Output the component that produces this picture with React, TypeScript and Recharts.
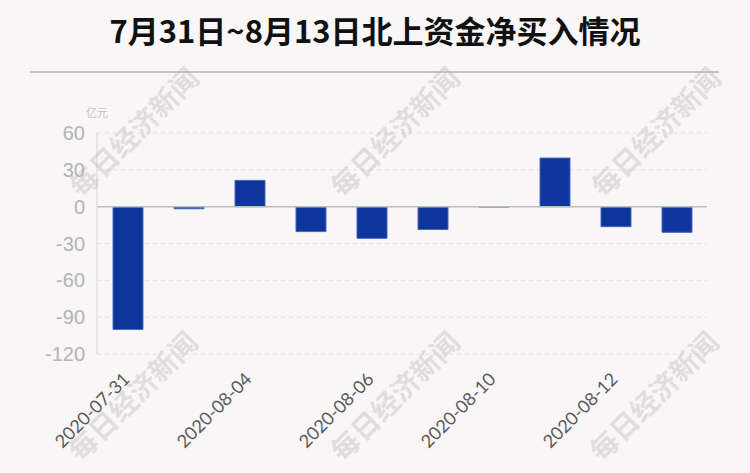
import React from "react";
import { BarChart, Bar, XAxis, YAxis, CartesianGrid, ReferenceLine } from "recharts";

const categories = [
  "2020-07-31", "2020-08-03", "2020-08-04", "2020-08-05", "2020-08-06",
  "2020-08-07", "2020-08-10", "2020-08-11", "2020-08-12", "2020-08-13",
];
const netBuy = [-100, -1.7, 21.4, -20.3, -25.8, -18.6, -0.3, 39.6, -16.3, -20.9];
const yTicks = [-120, -90, -60, -30, 0, 30, 60];
const title = "7月31日~8月13日北上资金净买入情况";
const unit = "亿元";
const watermark = "每日经济新闻";
const watermarkSpots = [
  [133, 131], [394, 131], [655, 131],
  [132, 395], [394, 395], [653, 395],
];

const data = categories.map((c, i) => ({ date: c, value: netBuy[i] }));

const XTick = (props: any) => {
  const { x, y, payload } = props;
  const ax = x - 1;
  const ay = y + 22;
  return (
    <text
      x={ax}
      y={ay}
      transform={`rotate(-45 ${ax} ${ay})`}
      textAnchor="end"
      dy="0.35em"
      fill="#5a5a5a"
      fontSize={18}
      fontFamily="Lato"
    >
      {payload.value}
    </text>
  );
};

export default function App() {
  return (
    <div
      style={{
        position: "fixed",
        left: 0,
        top: 0,
        width: 750,
        height: 473,
        background: "#f9f6f7",
        overflow: "hidden",
      }}
    >
      <div
        style={{
          position: "absolute",
          left: 0,
          top: 7,
          width: 750,
          textAlign: "center",
          fontFamily: "'Noto Sans CJK SC'",
          fontWeight: 700,
          fontSize: 31,
          lineHeight: "46px",
          color: "#111",
        }}
      >
        {title}
      </div>
      <div
        style={{
          position: "absolute",
          left: 30,
          top: 71,
          width: 689,
          height: 2,
          background: "#c4c2c3",
        }}
      />
      <div
        style={{
          position: "absolute",
          left: 97,
          top: 112,
          transform: "translate(-50%, -50%)",
          fontFamily: "'Noto Sans CJK SC'",
          fontSize: 11,
          color: "#c2c0c0",
          whiteSpace: "nowrap",
        }}
      >
        {unit}
      </div>
      <div style={{ position: "absolute", left: 0, top: 0 }}>
        <BarChart
          width={750}
          height={473}
          data={data}
          margin={{ top: 133, right: 43, bottom: 19, left: 37 }}
        >
          <CartesianGrid
            horizontal={true}
            vertical={false}
            stroke="#e2dede"
            strokeDasharray="4 4"
          />
          <XAxis
            dataKey="date"
            interval={1}
            axisLine={false}
            tickLine={false}
            tickSize={0}
            tickMargin={0}
            height={100}
            tick={<XTick />}
          />
          <YAxis
            domain={[-120, 60]}
            ticks={yTicks}
            width={60}
            axisLine={{ stroke: "#d6d3d3" }}
            tickLine={false}
            tickSize={0}
            tickMargin={12}
            tick={{ fill: "#b4b2b2", fontSize: 20, fontFamily: "Liberation Sans" }}
          />
          <ReferenceLine y={0} stroke="#bdbbbb" strokeWidth={1.5} />
          <Bar
            dataKey="value"
            fill="#0d359c"
            stroke="#4867bb"
            strokeWidth={1}
            barSize={30}
            isAnimationActive={false}
          />
        </BarChart>
      </div>
      {watermarkSpots.map(([cx, cy], i) => (
        <div
          key={i}
          style={{
            position: "absolute",
            left: cx,
            top: cy,
            transform: "translate(-50%, -50%) rotate(-45deg)",
            fontFamily: "'Noto Sans CJK SC'",
            fontWeight: 700,
            fontSize: 28,
            color: "rgba(185, 180, 180, 0.38)",
            whiteSpace: "nowrap",
            pointerEvents: "none",
          }}
        >
          {watermark}
        </div>
      ))}
    </div>
  );
}
